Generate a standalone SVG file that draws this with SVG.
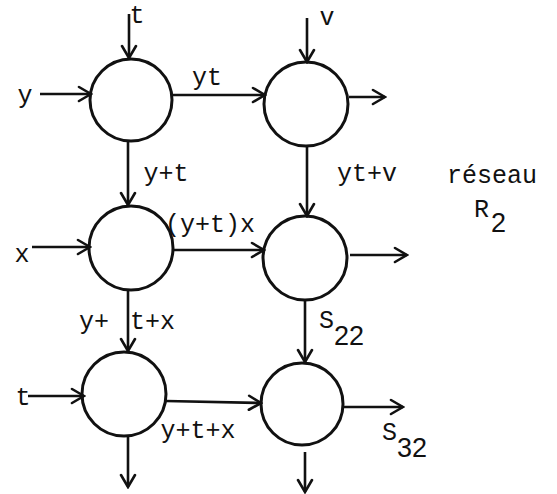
<svg xmlns="http://www.w3.org/2000/svg" width="557" height="494" viewBox="0 0 557 494">
<style>
.node{fill:none;stroke:#111;stroke-width:3}
.edge{fill:none;stroke:#111;stroke-width:2.6}
.lbl{font-family:"Liberation Mono","Courier New",monospace;font-size:25px;fill:#111}
.sub{font-family:"Liberation Sans",Arial,sans-serif;font-size:27px;fill:#111}
</style>
<defs>
<marker id="ah" markerUnits="userSpaceOnUse" viewBox="-14 -9 16 18" refX="0" refY="0" markerWidth="16" markerHeight="18" orient="auto">
<path d="M-12,-7 L0,0 L-12,7" fill="none" stroke="#111" stroke-width="2.6" stroke-linecap="round"/>
</marker>
</defs>
<rect width="557" height="494" fill="#fff"/>
<g id="connectors">
<line class="edge" x1="129" y1="14" x2="129" y2="58" marker-end="url(#ah)"/>
<line class="edge" x1="40" y1="94" x2="91" y2="94" marker-end="url(#ah)"/>
<line class="edge" x1="173" y1="95" x2="265" y2="95" marker-end="url(#ah)"/>
<line class="edge" x1="307" y1="18" x2="307" y2="62" marker-end="url(#ah)"/>
<line class="edge" x1="349" y1="97" x2="385" y2="97" marker-end="url(#ah)"/>
<line class="edge" x1="128" y1="142" x2="128" y2="205" marker-end="url(#ah)"/>
<line class="edge" x1="307" y1="147" x2="307" y2="216" marker-end="url(#ah)"/>
<line class="edge" x1="32" y1="247" x2="90" y2="247" marker-end="url(#ah)"/>
<line class="edge" x1="173" y1="250" x2="264" y2="250" marker-end="url(#ah)"/>
<line class="edge" x1="350" y1="255" x2="407" y2="255" marker-end="url(#ah)"/>
<line class="edge" x1="128" y1="290" x2="128" y2="351" marker-end="url(#ah)"/>
<line class="edge" x1="305" y1="300" x2="305" y2="362" marker-end="url(#ah)"/>
<line class="edge" x1="28" y1="396" x2="84" y2="396" marker-end="url(#ah)"/>
<line class="edge" x1="166" y1="401" x2="261" y2="403" marker-end="url(#ah)"/>
<line class="edge" x1="343" y1="407" x2="403" y2="407" marker-end="url(#ah)"/>
<line class="edge" x1="128" y1="436" x2="128" y2="487" marker-end="url(#ah)"/>
<line class="edge" x1="305" y1="452" x2="305" y2="492" marker-end="url(#ah)"/>
</g>
<g id="n11"><circle class="node" cx="131" cy="100" r="41"/></g>
<g id="n12"><circle class="node" cx="306" cy="104" r="42"/></g>
<g id="n21"><circle class="node" cx="131" cy="248" r="42"/></g>
<g id="n22"><circle class="node" cx="305" cy="258" r="42"/></g>
<g id="n31"><circle class="node" cx="124" cy="394" r="42"/></g>
<g id="n32"><circle class="node" cx="302" cy="404" r="41"/></g>
<g id="labels">
<text class="lbl" x="137" y="23" text-anchor="middle">t</text>
<text class="lbl" x="327" y="25" text-anchor="middle">v</text>
<text class="lbl" x="25" y="103" text-anchor="middle">y</text>
<text class="lbl" x="207" y="85" text-anchor="middle">yt</text>
<text class="lbl" x="166" y="181" text-anchor="middle">y+t</text>
<text class="lbl" x="367" y="181" text-anchor="middle">yt+v</text>
<text class="lbl" x="492" y="183" text-anchor="middle">réseau</text>
<text class="lbl" x="474" y="217">R</text>
<text class="sub" x="491" y="232">2</text>
<text class="lbl" x="210" y="232" text-anchor="middle">(y+t)x</text>
<text class="lbl" x="22" y="262" text-anchor="middle">x</text>
<text class="lbl" x="79" y="329">y+<tspan x="130">t+x</tspan></text>
<text class="lbl" x="319" y="328">S</text>
<text class="sub" x="334" y="345">22</text>
<text class="lbl" x="23" y="405" text-anchor="middle">t</text>
<text class="lbl" x="198" y="438" text-anchor="middle">y+t+x</text>
<text class="lbl" x="382" y="440">S</text>
<text class="sub" x="397" y="457">32</text>
</g>
</svg>
